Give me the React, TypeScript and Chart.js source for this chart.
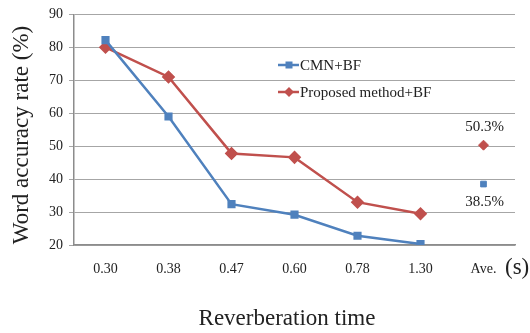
import React, { useEffect, useRef } from "react";
import { Chart, registerables } from "chart.js";

Chart.register(...registerables);

const categories = ["0.30", "0.38", "0.47", "0.60", "0.78", "1.30", "Ave."];
const cmnValues = [82.2, 59, 32.4, 29.2, 22.8, 20.3];
const proposedValues = [80, 71, 47.8, 46.6, 33, 29.5];
const cmnAve = 38.5;
const proposedAve = 50.3;
const seriesNames = ["CMN+BF", "Proposed method+BF"];
const yTicks = { min: 20, max: 90, step: 10 };

const BLUE = "#4F81BD";
const RED = "#C0504D";
const SERIF = "'Liberation Serif', 'Times New Roman', serif";
const TEXT = "#222";

const withAve = (vals: number[], ave: number | null) => {
  const arr: (number | null)[] = [...vals];
  while (arr.length < categories.length - 1) arr.push(null);
  arr.push(ave);
  return arr;
};

const overlayPlugin = {
  id: "overlay",
  afterDraw(chart: any) {
    const { ctx, scales } = chart;
    const x = scales.x;
    const y = scales.y;
    ctx.save();
    ctx.fillStyle = TEXT;
    ctx.font = `23px ${SERIF}`;
    ctx.textAlign = "center";
    ctx.textBaseline = "middle";
    ctx.fillText("Reverberation time", 287, 319);
    ctx.save();
    ctx.translate(22, 135);
    ctx.rotate(-Math.PI / 2);
    ctx.font = `23px ${SERIF}`;
    ctx.fillText("Word accuracy rate (%)", 0, 0);
    ctx.restore();
    ctx.font = `23px ${SERIF}`;
    ctx.textAlign = "left";
    ctx.fillText("(s)", 505, 268);
    const aveIdx = categories.length - 1;
    const ax = x.getPixelForValue(aveIdx);
    ctx.font = `15px ${SERIF}`;
    ctx.textAlign = "center";
    ctx.fillText(proposedAve.toFixed(1) + "%", ax + 1, y.getPixelForValue(proposedAve) - 18);
    ctx.fillText(cmnAve.toFixed(1) + "%", ax + 1, y.getPixelForValue(cmnAve) + 18);
    const items = [
      { name: seriesNames[0], color: BLUE, shape: "rect", yy: 65 },
      { name: seriesNames[1], color: RED, shape: "diamond", yy: 92 },
    ];
    items.forEach((it) => {
      ctx.strokeStyle = it.color;
      ctx.lineWidth = 2.5;
      ctx.beginPath();
      ctx.moveTo(278, it.yy);
      ctx.lineTo(299, it.yy);
      ctx.stroke();
      ctx.fillStyle = it.color;
      if (it.shape === "rect") {
        ctx.fillRect(289 - 3.5, it.yy - 3.5, 7, 7);
      } else {
        ctx.beginPath();
        ctx.moveTo(289, it.yy - 5);
        ctx.lineTo(294, it.yy);
        ctx.lineTo(289, it.yy + 5);
        ctx.lineTo(284, it.yy);
        ctx.closePath();
        ctx.fill();
      }
      ctx.fillStyle = TEXT;
      ctx.font = `15px ${SERIF}`;
      ctx.textAlign = "left";
      ctx.textBaseline = "middle";
      ctx.fillText(it.name, 300, it.yy + 1);
    });
    ctx.restore();
  },
};

export default function App() {
  const ref = useRef<HTMLCanvasElement>(null);
  useEffect(() => {
    if (!ref.current) return;
    const chart = new Chart(ref.current, {
      type: "line",
      data: {
        labels: categories,
        datasets: [
          {
            label: seriesNames[0],
            data: withAve(cmnValues, null),
            borderColor: BLUE,
            backgroundColor: BLUE,
            borderWidth: 2.5,
            pointStyle: "rect",
            pointRadius: 4,
            spanGaps: false,
          },
          {
            label: seriesNames[1],
            data: withAve(proposedValues, null),
            borderColor: RED,
            backgroundColor: RED,
            borderWidth: 2.5,
            pointStyle: "rectRot",
            pointRadius: 5,
            spanGaps: false,
          },
          {
            label: seriesNames[0] + " Ave",
            data: withAve([], cmnAve),
            borderColor: BLUE,
            backgroundColor: BLUE,
            showLine: false,
            pointStyle: "rect",
            pointRadius: 4,
          },
          {
            label: seriesNames[1] + " Ave",
            data: withAve([], proposedAve),
            borderColor: RED,
            backgroundColor: RED,
            showLine: false,
            pointStyle: "rectRot",
            pointRadius: 5,
          },
        ],
      },
      options: {
        responsive: false,
        animation: false,
        layout: { padding: { top: 14, right: 15, left: 0, bottom: 0 } },
        plugins: { legend: { display: false }, tooltip: { enabled: false } },
        scales: {
          x: {
            type: "category",
            offset: true,
            grid: { display: false, drawTicks: false },
            border: { display: true, color: "#8c8c8c", width: 1.5 },
            ticks: {
              padding: 16,
              color: TEXT,
              font: { family: SERIF, size: 14 },
              maxRotation: 0,
            },
            afterFit: (s: any) => {
              s.height = 88;
            },
          },
          y: {
            min: yTicks.min,
            max: yTicks.max,
            ticks: {
              stepSize: yTicks.step,
              padding: 6,
              color: TEXT,
              font: { family: SERIF, size: 14 },
            },
            grid: { color: "#a6a6a6", lineWidth: 1, tickLength: 5, drawTicks: true },
            border: { display: true, color: "#8c8c8c", width: 1.5 },
            afterFit: (s: any) => {
              s.width = 74;
            },
          },
        },
      },
      plugins: [overlayPlugin],
    } as any);
    return () => chart.destroy();
  }, []);
  return (
    <div style={{ position: "absolute", left: 0, top: 0, width: 530, height: 333, background: "#fff" }}>
      <canvas ref={ref} width={530} height={333} />
    </div>
  );
}
